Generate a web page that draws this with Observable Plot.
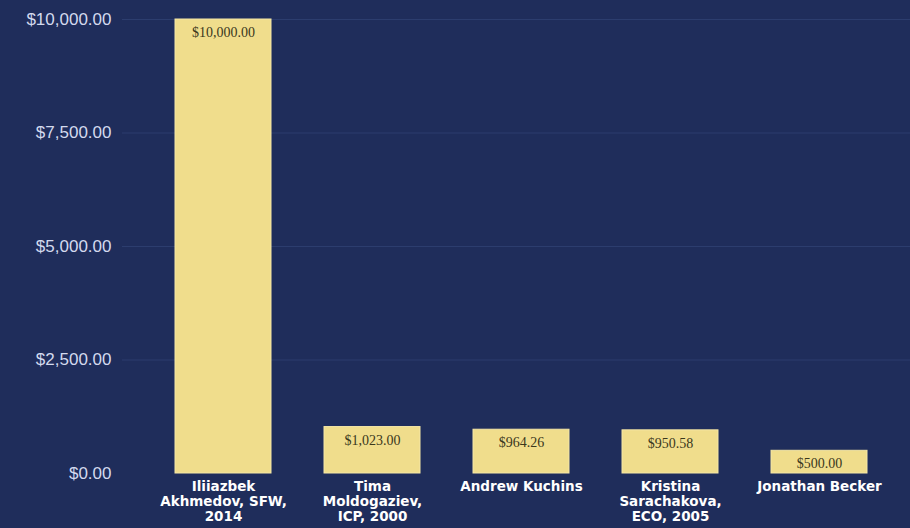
<!DOCTYPE html>
<html>
<head>
<meta charset="utf-8">
<script src="https://cdn.jsdelivr.net/npm/d3@7"></script>
<script src="https://cdn.jsdelivr.net/npm/@observablehq/plot@0.6"></script>
<style>
  html, body { margin: 0; padding: 0; background: #1f2d5b; }
  #chart svg { display: block; }
</style>
</head>
<body>
<div id="chart"></div>
<script>
const names = [
  "Iliiazbek\nAkhmedov, SFW,\n2014",
  "Tima\nMoldogaziev,\nICP, 2000",
  "Andrew Kuchins",
  "Kristina\nSarachakova,\nECO, 2005",
  "Jonathan Becker"
];
const amounts = [10000, 1023, 964.26, 950.58, 500];
const yTicks = [0, 2500, 5000, 7500, 10000];

const data = names.map((n, i) => ({name: n, amount: amounts[i]}));
const fmt = d3.format("$,.2f");

const chart = Plot.plot({
  width: 910,
  height: 528,
  marginTop: 19,
  marginBottom: 55,
  marginLeft: 122,
  marginRight: 0,
  style: {background: "#1f2d5b", overflow: "visible"},
  x: {domain: names, range: [122, 921], paddingInner: 0.353, paddingOuter: 0.35, axis: null},
  y: {domain: [0, 10000], axis: null},
  marks: [
    Plot.ruleY(yTicks.filter(d => d > 0), {stroke: "#2c3d6e", strokeWidth: 1}),
    Plot.barY(data, {x: "name", y: "amount", fill: "#f0dd8c", stroke: "#f6e7a6", strokeWidth: 1}),
    Plot.text(data, {x: "name", y: "amount", text: d => fmt(d.amount), dy: 13,
      fontFamily: "Liberation Serif", fontSize: 14, fill: "#3b381c"}),
    Plot.ruleY([0], {stroke: "#7f8ec0", strokeWidth: 2, x1: 122, x2: 910}),
    Plot.axisY(yTicks, {tickFormat: fmt, tickSize: 0, tickPadding: 11, label: null,
      fontFamily: "Liberation Sans", fontSize: 17, color: "#d3daee"}),
    Plot.text(data, {x: "name", y: 0, text: "name", dy: 7, lineAnchor: "top",
      fontFamily: "DejaVu Sans", fontWeight: "bold", fontSize: 13.5, lineHeight: 1.12,
      fill: "#ffffff"})
  ]
});
document.getElementById("chart").appendChild(chart);
</script>
</body>
</html>
